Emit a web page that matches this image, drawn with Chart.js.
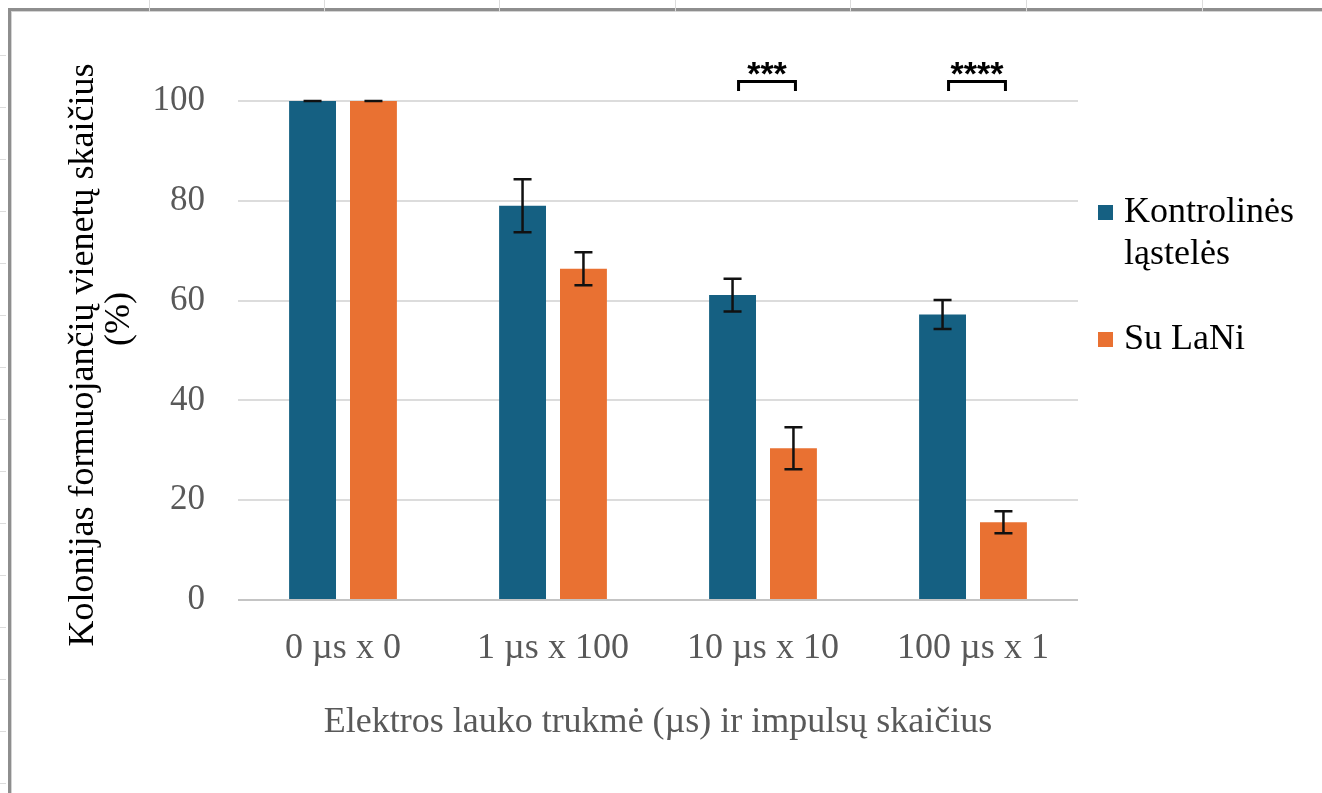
<!DOCTYPE html>
<html>
<head>
<meta charset="utf-8">
<title>Kolonijas formuojančių vienetų skaičius</title>
<script src="https://cdn.jsdelivr.net/npm/chart.js@4.4.0/dist/chart.umd.min.js"></script>
<style>
  html, body { margin: 0; padding: 0; background: #fff; }
  #wrap { position: relative; width: 1322px; height: 793px; overflow: hidden; }
  #frame {
    position: absolute; left: 8px; top: 8px; width: 1400px; height: 900px;
    border-top: 3px solid #8e8e8e; border-left: 3px solid #8e8e8e;
    box-shadow: inset 1px 1px 0 #d4d4d4;
  }
  .tk { position: absolute; background: #dcdcdc; }
  canvas { position: absolute; left: 0; top: 0; }
</style>
</head>
<body>
<div id="wrap">
  <div id="frame"></div>
  <canvas id="chart" width="1322" height="793"></canvas>
</div>
<script>
const categories = ['0 µs x 0', '1 µs x 100', '10 µs x 10', '100 µs x 1'];
const controlLabel = ['Kontrolinės', 'ląstelės'];
const controlValues = [100, 79, 61.1, 57.2];
const controlErrors = [0, 5.3, 3.3, 2.9];
const laniLabel = ['Su LaNi'];
const laniValues = [100, 66.4, 30.4, 15.6];
const laniErrors = [0, 3.3, 4.2, 2.2];
const significance = ['', '', '***', '****'];
const yTicks = [0, 20, 40, 60, 80, 100];

const serif = '"Liberation Serif", "Times New Roman", serif';

// spreadsheet cell marks behind the chart
const wrap = document.getElementById('wrap');
[149, 324, 499, 675, 850, 1026, 1202].forEach(x => {
  const d = document.createElement('div');
  d.className = 'tk';
  d.style.cssText = `left:${x}px;top:0;width:1px;height:12px`;
  wrap.appendChild(d);
});
[55, 107, 159, 211, 263, 315, 367, 419, 471, 523, 575, 627, 679, 731, 783].forEach(y => {
  const d = document.createElement('div');
  d.className = 'tk';
  d.style.cssText = `left:0;top:${y}px;width:6px;height:1px`;
  wrap.appendChild(d);
});

/** error bars */
const errorBars = {
  id: 'errorBars',
  afterDatasetsDraw(chart) {
    const { ctx } = chart;
    const y = chart.scales.y;
    ctx.save();
    ctx.strokeStyle = '#111';
    ctx.lineWidth = 2.5;
    chart.data.datasets.forEach((ds, i) => {
      chart.getDatasetMeta(i).data.forEach((bar, j) => {
        const v = ds.data[j], e = ds.errors[j];
        const top = y.getPixelForValue(v + e);
        const bot = y.getPixelForValue(v - e);
        ctx.beginPath();
        ctx.moveTo(bar.x, top); ctx.lineTo(bar.x, bot);
        ctx.moveTo(bar.x - 9, top); ctx.lineTo(bar.x + 9, top);
        ctx.moveTo(bar.x - 9, bot); ctx.lineTo(bar.x + 9, bot);
        ctx.stroke();
      });
    });
    ctx.restore();
  }
};

/** significance brackets */
const sigBrackets = {
  id: 'sigBrackets',
  afterDatasetsDraw(chart) {
    const { ctx } = chart;
    const y = chart.scales.y;
    const m0 = chart.getDatasetMeta(0), m1 = chart.getDatasetMeta(1);
    ctx.save();
    ctx.strokeStyle = '#000';
    ctx.fillStyle = '#000';
    ctx.lineWidth = 3;
    significance.forEach((s, j) => {
      if (!s) return;
      const x1 = m0.data[j].x + 6, x2 = m1.data[j].x + 2;
      const yl = y.getPixelForValue(103.9), yb = y.getPixelForValue(102);
      ctx.beginPath();
      ctx.moveTo(x1, yb); ctx.lineTo(x1, yl); ctx.lineTo(x2, yl); ctx.lineTo(x2, yb);
      ctx.stroke();
      ctx.font = 'bold 34px "Liberation Sans", Arial, sans-serif';
      ctx.textAlign = 'center';
      ctx.textBaseline = 'alphabetic';
      ctx.fillText(s, (x1 + x2) / 2, y.getPixelForValue(103.3));
    });
    ctx.restore();
  }
};

/** legend at the right */
const sideLegend = {
  id: 'sideLegend',
  afterDraw(chart) {
    const { ctx, chartArea } = chart;
    const rows = [213, 340];
    ctx.save();
    ctx.font = '36px ' + serif;
    ctx.textBaseline = 'middle';
    ctx.textAlign = 'left';
    chart.data.datasets.forEach((ds, i) => {
      const x = chartArea.right + 20;
      ctx.fillStyle = ds.backgroundColor;
      ctx.fillRect(x, rows[i] - 8, 15, 15);
      ctx.fillStyle = '#000';
      ds.label.forEach((t, k) => ctx.fillText(t, x + 26, rows[i] + k * 42));
    });
    ctx.restore();
  }
};

new Chart(document.getElementById('chart'), {
  type: 'bar',
  data: {
    labels: categories,
    datasets: [
      { label: controlLabel, data: controlValues, errors: controlErrors, backgroundColor: '#156082' },
      { label: laniLabel, data: laniValues, errors: laniErrors, backgroundColor: '#E97132' }
    ]
  },
  options: {
    responsive: false,
    animation: false,
    devicePixelRatio: 1,
    categoryPercentage: 0.58,
    barPercentage: 0.77,
    layout: { padding: { left: 0, top: 101, right: 244, bottom: 0 } },
    plugins: {
      legend: { display: false },
      tooltip: { enabled: false }
    },
    scales: {
      x: {
        grid: { display: false, drawTicks: false },
        border: { display: false },
        ticks: { color: '#595959', font: { family: serif, size: 36 }, padding: 27 },
        title: {
          display: true,
          text: 'Elektros lauko trukmė (µs) ir impulsų skaičius',
          color: '#595959',
          font: { family: serif, size: 36 },
          padding: { top: 0, bottom: 49 }
        },
        afterFit: axis => { axis.height = 193; }
      },
      y: {
        min: 0,
        max: 100,
        afterBuildTicks: axis => { axis.ticks = yTicks.map(v => ({ value: v })); },
        grid: {
          drawTicks: false,
          lineWidth: 2,
          color: c => c.tick && c.tick.value === 0 ? '#c4c4c4' : '#dcdcdc'
        },
        border: { display: false },
        ticks: { color: '#595959', font: { family: serif, size: 35 }, padding: 33 },
        title: {
          display: true,
          text: ['Kolonijas formuojančių vienetų skaičius ', '       (%)'],
          color: '#000',
          font: { family: serif, size: 36, lineHeight: 1.0 },
          padding: { top: 66, bottom: 0 }
        },
        afterFit: axis => { axis.width = 238; }
      }
    }
  },
  plugins: [errorBars, sigBrackets, sideLegend]
});
</script>
</body>
</html>
